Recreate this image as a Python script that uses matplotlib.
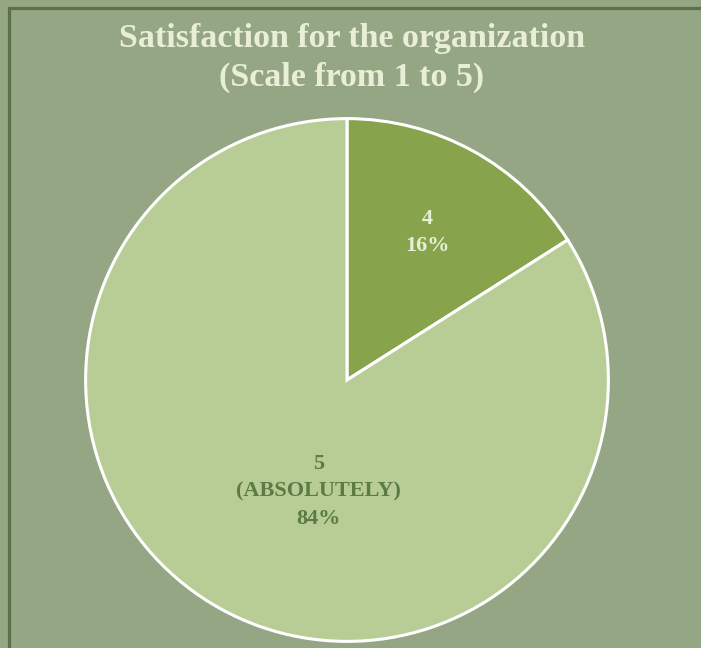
import matplotlib
matplotlib.use('Agg')
from matplotlib import pyplot as plt
from matplotlib.patches import Rectangle
import numpy as np

# chart data
categories = ["4", "5\n(ABSOLUTELY)"]
shares = [16, 84]
slice_colors = ["#87a34c", "#b8cd96"]
label_colors = ["#e9eed6", "#5b7a44"]
title_text = "Satisfaction for the organization\n(Scale from 1 to 5)"

bg = "#94a684"
W, H = 701, 648
fig = plt.figure(figsize=(W / 100, H / 100), dpi=100, facecolor=bg)

# dark green frame (runs off the right/bottom edges like the source)
fig.patches.append(Rectangle((9 / W, -0.1), 1.2, 1 - 8 / H + 0.1, transform=fig.transFigure,
                             fill=False, edgecolor="#5a7248", linewidth=2.3))

cx, cy, r = 347, 380, 264
ax = fig.add_axes([(cx - r) / W, (H - cy - r) / H, 2 * r / W, 2 * r / H])
ax.set_facecolor(bg)
wedges, _ = ax.pie(shares, colors=slice_colors, startangle=90, counterclock=False,
                   radius=1, wedgeprops=dict(edgecolor="white", linewidth=2.2))
ax.set_xlim(-1.01, 1.01)
ax.set_ylim(-1.01, 1.01)
ax.set_aspect("equal")
ax.axis("off")

# label placement, similar to the excel layout
label_pos = [(0.307, 0.564), (-0.11, -0.428)]
for cat, pct, col, (x, y) in zip(categories, shares, label_colors, label_pos):
    ax.text(x, y, cat + "\n" + str(pct) + "%", ha="center", va="center", color=col,
            fontsize=16, fontweight="bold", family="Liberation Serif", linespacing=1.5)

fig.text(352 / W, 1 - 58 / H, title_text, ha="center", va="center", color="#e9efd6",
         fontsize=24.5, fontweight="bold", family="Liberation Serif", linespacing=1.3)

fig.savefig("out.png", dpi=100, facecolor=bg)
